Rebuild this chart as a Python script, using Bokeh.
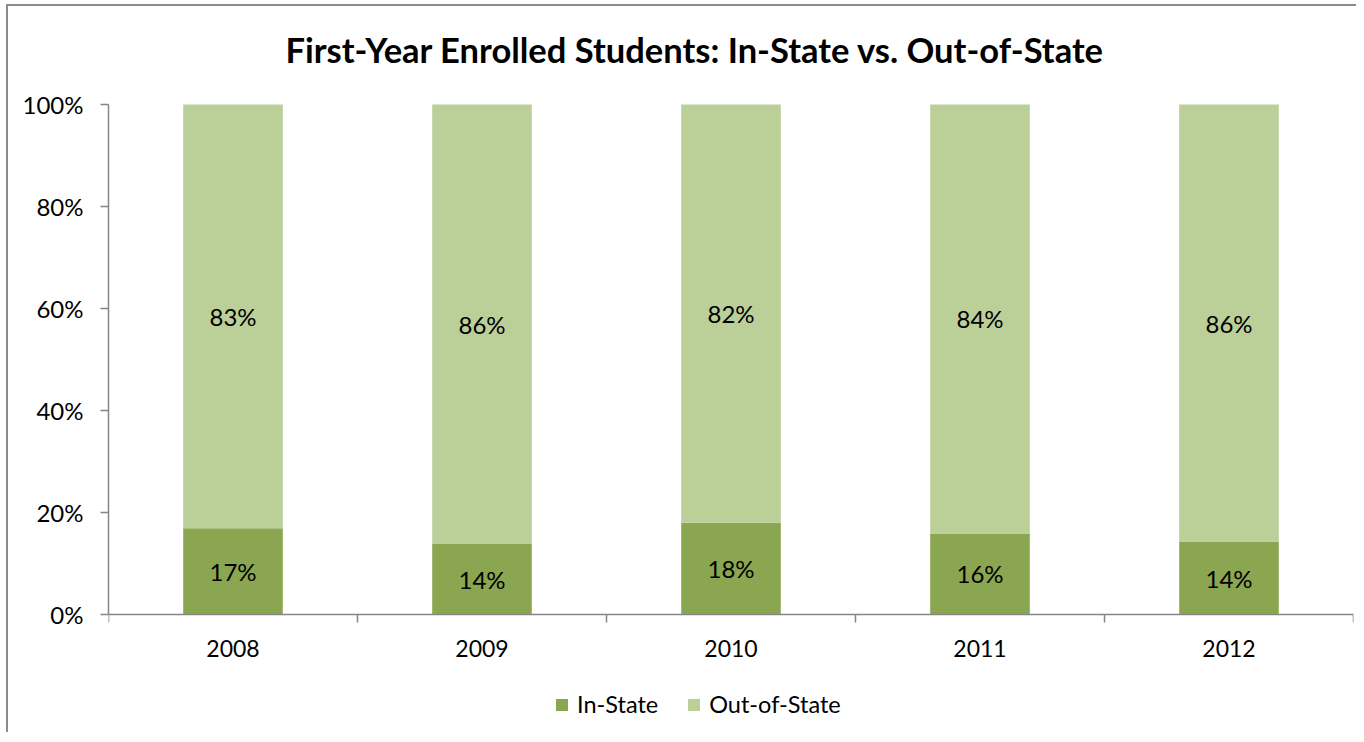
from bokeh.plotting import figure
from bokeh.models import (ColumnDataSource, FixedTicker, PrintfTickFormatter,
                          Range1d, Legend, LegendItem)
from bokeh.core.properties import value
from bokeh.embed import file_html
from bokeh.resources import INLINE

# ---- data ----
years = ["2008", "2009", "2010", "2011", "2012"]
in_state = [16.9, 13.9, 18.0, 15.9, 14.3]
out_of_state = [83.1, 86.1, 82.0, 84.1, 85.7]
y_ticks = [0, 20, 40, 60, 80, 100]
title_text = "First-Year Enrolled Students: In-State vs. Out-of-State"
series_names = ["In-State", "Out-of-State"]
colors = ["#8BA650", "#BBCF99"]

FONT = "Lato"
AXIS_GREY = "#868686"

# layout: the plotting frame is extended above 100% and below 0% so that the
# title and the legend (which Bokeh clips to the frame) sit inside it
FRAME_W = 1245
FRAME_H = 714
VALUE_PX = 510            # pixels between 0% and 100%
PX_ABOVE = 94             # frame pixels above the 100% line
PX_BELOW = FRAME_H - VALUE_PX - PX_ABOVE
y_end = 100.0 + 100.0 * PX_ABOVE / VALUE_PX
y_start = -100.0 * PX_BELOW / VALUE_PX

xc = [i + 0.5 for i in range(len(years))]
tops = [a + b for a, b in zip(in_state, out_of_state)]
src = ColumnDataSource(dict(
    x=xc, years=years, ins=in_state, outs=out_of_state, tops=tops,
    zero=[0] * len(years),
    in_mid=[v / 2 for v in in_state],
    out_mid=[a + b / 2 for a, b in zip(in_state, out_of_state)],
    in_lab=[f"{round(v):d}%" for v in in_state],
    out_lab=[f"{round(v):d}%" for v in out_of_state],
))

p = figure(frame_width=FRAME_W, frame_height=FRAME_H, output_backend="svg",
           toolbar_location=None,
           x_range=Range1d(0, len(years)), y_range=Range1d(y_start, y_end),
           min_border_left=100, min_border_right=3, min_border_top=4,
           min_border_bottom=8)
p.styles = {"margin-left": "6px", "margin-top": "4px",
            "border-left": "2px solid #8c8c8c", "border-top": "2px solid #8c8c8c"}
p.outline_line_color = None
p.xgrid.visible = False
p.ygrid.visible = False

# chart title
p.text(x=[len(years) / 2], y=[max(y_ticks)], text=[title_text],
       x_offset=-36, y_offset=-55, text_align="center", text_baseline="middle",
       text_font=value(FONT), text_font_size="34.5px", text_font_style="bold",
       text_color="#000000")

r_in = p.vbar(x="x", bottom=0, top="ins", width=0.4, source=src,
              fill_color=colors[0], line_color=None)
r_out = p.vbar(x="x", bottom="ins", top="tops", width=0.4, source=src,
               fill_color=colors[1], line_color=None)

for ycol, tcol in (("in_mid", "in_lab"), ("out_mid", "out_lab")):
    p.text(x="x", y=ycol, text=tcol, source=src, text_align="center",
           text_baseline="middle", text_font=value(FONT),
           text_font_size="24px", text_color="#000000")

# category labels under the axis
p.text(x="x", y="zero", text="years", source=src, text_align="center",
       text_baseline="middle", y_offset=34, text_font=value(FONT),
       text_font_size="23px", text_color="#000000")

# x axis at 0%: tick marks at category boundaries
p.xaxis.fixed_location = 0
p.xaxis.ticker = FixedTicker(ticks=xc, minor_ticks=list(range(len(years) + 1)))
p.xaxis.axis_line_color = AXIS_GREY
p.xaxis.axis_line_width = 1.5
p.xaxis.major_tick_line_color = None
p.xaxis.major_tick_out = 0
p.xaxis.major_tick_in = 0
p.xaxis.minor_tick_line_color = AXIS_GREY
p.xaxis.minor_tick_line_width = 1.5
p.xaxis.minor_tick_out = 8
p.xaxis.minor_tick_in = 0
p.xaxis.major_label_standoff = 0
p.xaxis.major_label_text_font_size = "0px"
p.xaxis.major_label_text_alpha = 0

p.yaxis.ticker = FixedTicker(ticks=y_ticks, minor_ticks=[])
p.yaxis.bounds = (min(y_ticks), max(y_ticks))
p.yaxis.formatter = PrintfTickFormatter(format="%d%%")
p.yaxis.axis_line_color = AXIS_GREY
p.yaxis.axis_line_width = 1.5
p.yaxis.major_tick_line_color = AXIS_GREY
p.yaxis.major_tick_line_width = 1.5
p.yaxis.major_tick_out = 8
p.yaxis.major_tick_in = 0
p.yaxis.major_label_standoff = 17
p.yaxis.major_label_text_font = FONT
p.yaxis.major_label_text_font_size = "24px"
p.yaxis.major_label_text_color = "#000000"

legend = Legend(items=[LegendItem(label=series_names[0], renderers=[r_in]),
                       LegendItem(label=series_names[1], renderers=[r_out])],
                orientation="horizontal", location=(446, 6),
                glyph_width=15, glyph_height=15, label_standoff=8, spacing=28,
                label_text_font=FONT, label_text_font_size="23.5px",
                label_text_color="#000000", border_line_color=None,
                background_fill_alpha=0, padding=4, margin=0)
p.add_layout(legend, "center")

open("out.html", "w").write(file_html(p, INLINE))
